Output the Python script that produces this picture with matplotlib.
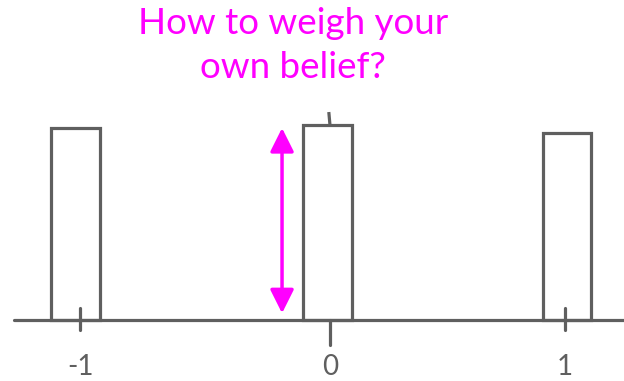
import matplotlib.pyplot as plt

# hand-drawn sketch: three bars over positions -1, 0, 1
bar_x = [-0.998, -0.01, 0.93]
bar_h = [1.0, 1.015, 0.975]
bar_w = 0.19
tick_x = [-0.98, 0.0, 0.92]
tick_labels = ['-1', '0', '1']
title = 'How to weigh your\nown belief?'

gray = '#5f5f5f'
magenta = '#ff00ff'

fig = plt.figure(figsize=(6.24, 3.81), dpi=100)
ax = fig.add_axes([0, 0, 1, 1])
ax.set_xlim(-1.294, 1.153)
ax.set_ylim(-0.318, 1.667)
ax.axis('off')

ax.bar(bar_x, bar_h, width=bar_w, fill=False, edgecolor=gray, linewidth=2.3)
ax.plot([-1.24, 1.153], [0, 0], color=gray, lw=2.3, solid_capstyle='round')

# tick marks and labels
for tx, lab in zip(tick_x, tick_labels):
    ax.plot([tx, tx], [-0.05, 0.06] if lab != '0' else [0, -0.13],
            color=gray, lw=2.3, solid_capstyle='round')
    ax.text(tx, -0.245, lab, ha='center', va='center', fontsize=20,
            color=gray, family='Lato')
ax.plot([-0.004, 0.0], [1.075, 1.015], color=gray, lw=2.3)

# double-headed arrow
ax.annotate('', xy=(-0.188, 1.0), xytext=(-0.188, 0.035),
            arrowprops=dict(arrowstyle='<|-|>', color=magenta, lw=2.5,
                            mutation_scale=36, shrinkA=0, shrinkB=0))

ax.text(-0.145, 1.43, title, ha='center', va='center', fontsize=26.5,
        color=magenta, family='Lato', linespacing=1.42)

fig.savefig('out.png', dpi=100)
